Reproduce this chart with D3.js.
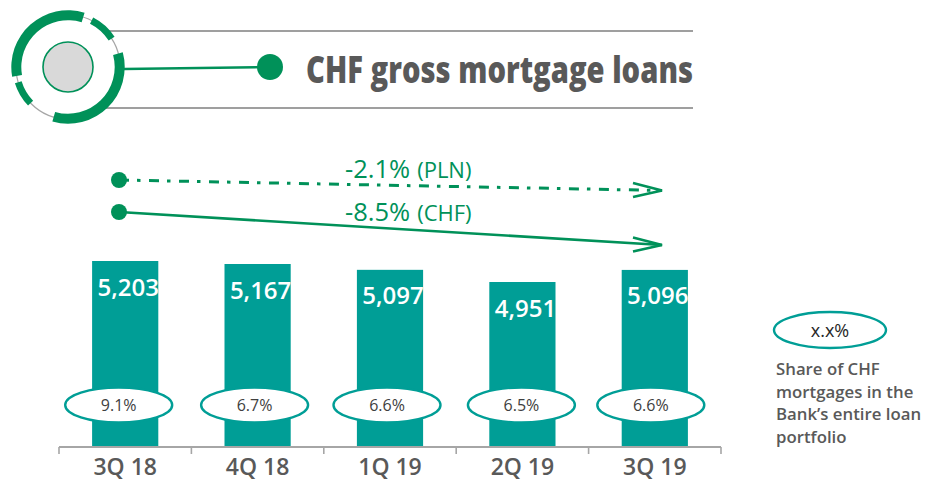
<!DOCTYPE html>
<html><head><meta charset="utf-8">
<script src="https://cdn.jsdelivr.net/npm/d3@7"></script>
<style>html,body{margin:0;padding:0;background:#fff}svg{display:block}</style>
</head><body><svg id="c" width="926" height="481"></svg>
<script>
const categories=["3Q 18","4Q 18","1Q 19","2Q 19","3Q 19"];
const loans=[5203,5167,5097,4951,5096];
const loanLabels=["5,203","5,167","5,097","4,951","5,096"];
const shares=["9.1%","6.7%","6.6%","6.5%","6.6%"];
const legendNote=["Share of CHF","mortgages in the","Bank’s entire loan","portfolio"];
const font="'Open Sans','Noto Sans',sans-serif";
const green="#009159",teal="#009e96",grey="#595959";
const svg=d3.select("#c");

// header
const hdr=svg.append("g");
[[108,31],[106,108]].forEach(([x,y])=>hdr.append("line").attr("x1",x).attr("x2",693).attr("y1",y).attr("y2",y).attr("stroke","#7f7f7f").attr("stroke-width",1.6));
const ico=svg.append("g").attr("transform","translate(68,67)");
ico.append("circle").attr("r",52).attr("fill","#fff").attr("stroke","#a6a6a6").attr("stroke-width",1.2);
const rad=d=>d*Math.PI/180;
[[-100,17,46.7,56.7],[27,57,48.5,55.5],[75,196,46.7,56.7],[226,253,48.5,55.5]].forEach(([a,b,r0,r1])=>
  ico.append("path").attr("d",d3.arc()({innerRadius:r0,outerRadius:r1,startAngle:rad(a),endAngle:rad(b)})).attr("fill",green));
ico.append("circle").attr("r",25).attr("fill","#d9d9d9").attr("stroke",green).attr("stroke-width",1.6);
svg.append("line").attr("x1",124).attr("y1",69).attr("x2",270).attr("y2",67).attr("stroke",green).attr("stroke-width",2.4);
svg.append("circle").attr("cx",270).attr("cy",67).attr("r",13).attr("fill",green);
svg.append("text").attr("x",306).attr("y",83).attr("font-family",font).attr("font-weight",800).attr("font-size",37)
  .attr("fill",grey).attr("textLength",387).attr("lengthAdjust","spacingAndGlyphs").text("CHF gross mortgage loans");

// scales
const x=d3.scaleBand().domain(categories).range([59,721]).paddingInner(0.5).paddingOuter(0.25);
const y=d3.scaleLinear().domain([2971,5203]).range([447,261]);
const cx=c=>x(c)+x.bandwidth()/2;
const shareNudge=[-6.5,-3,-3,-1,-4];

// bars
svg.selectAll("rect.b").data(categories).join("rect").attr("class","b")
  .attr("x",c=>x(c)).attr("width",x.bandwidth())
  .attr("y",(c,i)=>y(loans[i])).attr("height",(c,i)=>y.range()[0]-y(loans[i])).attr("fill",teal);
svg.selectAll("text.v").data(categories).join("text").attr("class","v")
  .attr("x",c=>cx(c)+3).attr("y",(c,i)=>y(loans[i])+34.5).attr("text-anchor","middle")
  .attr("font-family",font).attr("font-weight",600).attr("font-size",24).attr("fill","#fff")
  .text((c,i)=>loanLabels[i]);

// share ellipses
svg.selectAll("ellipse.s").data(categories).join("ellipse").attr("class","s")
  .attr("cx",(c,i)=>cx(c)+shareNudge[i]).attr("cy",405).attr("rx",53.5).attr("ry",17.5).attr("fill","#fff").attr("stroke",teal).attr("stroke-width",2.4);
svg.selectAll("text.s").data(categories).join("text").attr("class","s")
  .attr("x",(c,i)=>cx(c)+shareNudge[i]).attr("y",410.5).attr("text-anchor","middle").attr("font-family",font).attr("font-size",16).attr("fill","#404040")
  .text((c,i)=>shares[i]);

// axis
const axisG=svg.append("g").attr("transform","translate(0,447)");
axisG.append("line").attr("x1",59).attr("x2",721).attr("stroke","#a6a6a6").attr("stroke-width",2);
const step=x.step();
d3.range(categories.length+1).forEach(i=>{
  const t=59+i*step;
  axisG.append("line").attr("x1",t).attr("x2",t).attr("y1",0).attr("y2",7).attr("stroke","#a6a6a6").attr("stroke-width",1.6);
});
axisG.selectAll("text").data(categories).join("text").attr("x",cx).attr("y",28).attr("text-anchor","middle")
  .attr("font-family",font).attr("font-weight",600).attr("font-size",23).attr("fill",grey).text(c=>c);

// trends
const trends=[
 {x1:119,y1:180,x2:662,y2:190.5,dash:"10 8 3.5 8.5",w:3,label:"-2.1%",unit:"(PLN)",lx:345,ly:178},
 {x1:119,y1:212,x2:662,y2:245,dash:null,w:2.6,label:"-8.5%",unit:"(CHF)",lx:345,ly:221}
];
trends.forEach(t=>{
  svg.append("line").attr("x1",t.x1).attr("y1",t.y1).attr("x2",t.x2).attr("y2",t.y2)
    .attr("stroke",green).attr("stroke-width",t.w).attr("stroke-dasharray",t.dash);
  svg.append("circle").attr("cx",t.x1).attr("cy",t.y1).attr("r",8).attr("fill",green);
  svg.append("path").attr("d",`M${t.x2-29},${t.y2-7.5}L${t.x2},${t.y2}L${t.x2-29},${t.y2+6.5}`)
    .attr("fill","none").attr("stroke",green).attr("stroke-width",2.6);
  const tx=svg.append("text").attr("x",t.lx).attr("y",t.ly).attr("font-family",font).attr("fill",green);
  tx.append("tspan").attr("font-size",25.5).attr("font-weight",500).text(t.label);
  tx.append("tspan").attr("font-size",22).attr("font-weight",500).attr("dx",7).text(t.unit);
});

// legend
svg.append("ellipse").attr("cx",830).attr("cy",330).attr("rx",56).attr("ry",18).attr("fill","#fff").attr("stroke",teal).attr("stroke-width",2.4);
svg.append("text").attr("x",830).attr("y",337).attr("text-anchor","middle").attr("font-family",font).attr("font-size",18).attr("fill","#262626").text("x.x%");
svg.selectAll("text.n").data(legendNote).join("text").attr("class","n").attr("x",776).attr("y",(d,i)=>375+i*22.5)
  .attr("font-family",font).attr("font-weight",600).attr("font-size",16.8).attr("fill",grey).text(d=>d);
</script></body></html>
